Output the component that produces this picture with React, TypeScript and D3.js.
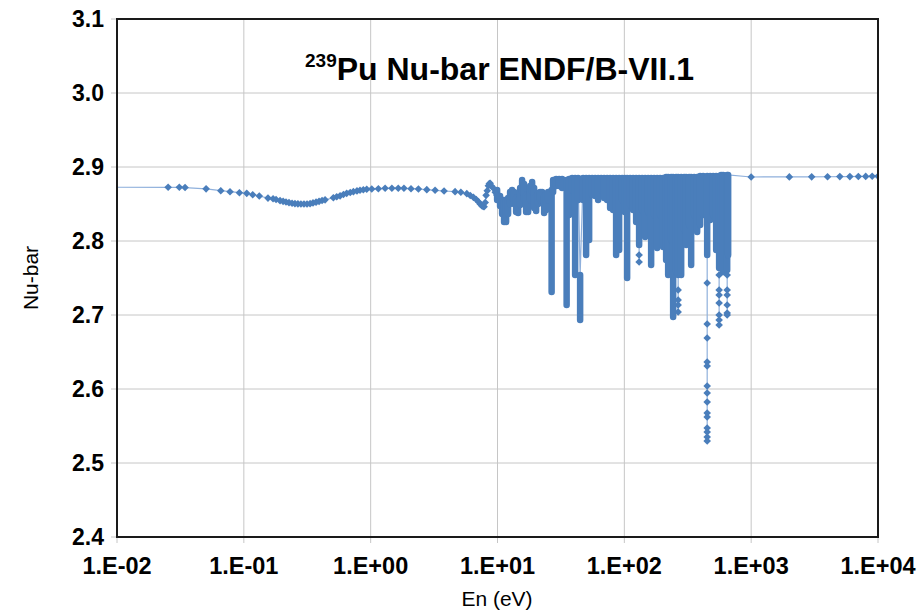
import React from 'react';
import * as d3 from 'd3';

const W = 920;
const H = 610;
const PL = 117, PR = 878, PT = 19, PB = 537;

const xTicks = [1e-2, 1e-1, 1, 10, 100, 1000, 10000];
const xTickLabels = ['1.E-02', '1.E-01', '1.E+00', '1.E+01', '1.E+02', '1.E+03', '1.E+04'];
const yTicks = [2.4, 2.5, 2.6, 2.7, 2.8, 2.9, 3.0, 3.1];
const yTickLabels = ['2.4', '2.5', '2.6', '2.7', '2.8', '2.9', '3.0', '3.1'];

// smooth (thermal / low-energy) region: individual points
const lowE = [0.00001, 0.0253, 0.031, 0.0344, 0.0504, 0.0658, 0.0778, 0.0923, 0.1054, 0.1175, 0.1324, 0.155, 0.170, 0.1795, 0.193, 0.204, 0.215, 0.227, 0.240, 0.253, 0.267, 0.282, 0.298, 0.315, 0.333, 0.351, 0.371, 0.392, 0.414, 0.437, 0.508, 0.54, 0.574, 0.61, 0.647, 0.69, 0.731, 0.78, 0.824, 0.875, 0.931, 1.02, 1.15, 1.30, 1.47, 1.65, 1.83, 2.08, 2.38, 2.77, 3.22, 3.79, 4.63, 5.14, 5.73, 6.1, 6.46, 6.8, 7.07, 7.30, 7.52, 7.70, 7.84, 8.0, 8.13, 8.30, 8.47, 8.62, 8.75, 9.0, 9.29, 9.6, 9.87];
const lowNu = [2.8730, 2.8726, 2.8726, 2.8722, 2.8705, 2.8680, 2.8666, 2.8653, 2.8644, 2.8626, 2.8608, 2.8580, 2.8570, 2.8560, 2.8545, 2.8536, 2.8527, 2.8518, 2.8510, 2.8505, 2.8502, 2.8500, 2.8500, 2.8500, 2.8505, 2.8515, 2.8525, 2.8536, 2.8547, 2.8556, 2.8585, 2.8598, 2.8610, 2.8628, 2.8644, 2.8656, 2.8667, 2.8677, 2.8685, 2.8692, 2.8699, 2.8703, 2.8707, 2.8712, 2.8712, 2.8712, 2.8712, 2.8707, 2.8703, 2.8694, 2.8685, 2.8676, 2.8667, 2.8658, 2.8640, 2.8615, 2.8590, 2.8560, 2.8530, 2.8500, 2.8477, 2.8466, 2.8464, 2.8520, 2.8617, 2.8680, 2.8745, 2.8775, 2.8779, 2.8740, 2.8712, 2.8660, 2.8620];

// resolved-resonance region: densely sampled, shown as value ranges per energy
const colE = [9.93, 10.48, 10.87, 11.27, 11.69, 12.12, 12.57, 13.03, 13.52, 14.02, 14.54, 15.08, 15.63, 16.21, 16.81, 17.43, 18.08, 18.75, 19.44, 20.16, 20.91, 21.68, 22.48, 23.32, 24.18, 25.07, 26.71, 27.45, 28.98, 30.61, 32.32, 35.08, 36.71, 38.76, 40.93, 43.22, 44.82, 47.33, 49.96, 52.78, 55.75, 58.85, 62.15, 65.61, 69.28, 73.16, 77.27, 81.60, 86.15, 90.99, 96.07, 100.6, 105.2, 111.1, 117.3, 123.9, 130.8, 138.2, 145.9, 154.1, 162.7, 171.8, 181.4, 191.6, 202.3, 213.6, 221.6, 234.0, 242.6, 256.2, 265.7, 280.6, 296.2, 307.2, 324.4, 336.4, 355.3, 375.1, 396.1, 418.3, 450.0, 475.1, 501.6, 529.7, 559.0, 579.9, 601.3, 647.0, 658.5];
const colHi = [2.8689, 2.8608, 2.8554, 2.8554, 2.8554, 2.8581, 2.8662, 2.8689, 2.8662, 2.8581, 2.8554, 2.8716, 2.8824, 2.8770, 2.8622, 2.8608, 2.8743, 2.8797, 2.8716, 2.8608, 2.8649, 2.8662, 2.8662, 2.8608, 2.8635, 2.8662, 2.8689, 2.8824, 2.8838, 2.8838, 2.8838, 2.8824, 2.8838, 2.8851, 2.8851, 2.8851, 2.7541, 2.8851, 2.8851, 2.8851, 2.8851, 2.8851, 2.8851, 2.8851, 2.8851, 2.8851, 2.8851, 2.8851, 2.8851, 2.8851, 2.8851, 2.8851, 2.8851, 2.8851, 2.8851, 2.8851, 2.8851, 2.8851, 2.8851, 2.8851, 2.8851, 2.8851, 2.8851, 2.8851, 2.8851, 2.8865, 2.8865, 2.8865, 2.8865, 2.8865, 2.8865, 2.8865, 2.8865, 2.8865, 2.8865, 2.8865, 2.8865, 2.8865, 2.8878, 2.8878, 2.8878, 2.8878, 2.8878, 2.8878, 2.8878, 2.8892, 2.8892, 2.8892, 2.8892];
const colLo = [2.8554, 2.8473, 2.8365, 2.8257, 2.8257, 2.8365, 2.8500, 2.8581, 2.8500, 2.8392, 2.8378, 2.8486, 2.8662, 2.8554, 2.8392, 2.8392, 2.8554, 2.8662, 2.8446, 2.8405, 2.8500, 2.8554, 2.8554, 2.8378, 2.8419, 2.8554, 2.7311, 2.8662, 2.8743, 2.8743, 2.8716, 2.7135, 2.8351, 2.8689, 2.7541, 2.8554, 2.6932, 2.8554, 2.7811, 2.8014, 2.8622, 2.8608, 2.8554, 2.8689, 2.8581, 2.8554, 2.8446, 2.8419, 2.7811, 2.7878, 2.8554, 2.8392, 2.7500, 2.8486, 2.8419, 2.8257, 2.7946, 2.8419, 2.8054, 2.8392, 2.7676, 2.8351, 2.7905, 2.8351, 2.7919, 2.7743, 2.7541, 2.8014, 2.6973, 2.7581, 2.7541, 2.7541, 2.8149, 2.7946, 2.8216, 2.7676, 2.8351, 2.8122, 2.8216, 2.8351, 2.7811, 2.8284, 2.8351, 2.7878, 2.7635, 2.7635, 2.7581, 2.7608, 2.7811];

// isolated points in the deepest resonance dips
const tailE = [130.8, 130.8, 265.7, 265.7, 265.7, 265.7, 450, 450, 450, 450, 450, 450, 450, 450, 450, 450, 450, 450, 450, 450, 559, 559, 559, 559, 559, 559, 559, 647, 647, 647, 647, 647, 647];
const tailNu = [2.7811, 2.7716, 2.7338, 2.7203, 2.7135, 2.7041, 2.7432, 2.6878, 2.6689, 2.6365, 2.6311, 2.6041, 2.5946, 2.5824, 2.5676, 2.5622, 2.5473, 2.5419, 2.5351, 2.5297, 2.7541, 2.7338, 2.7270, 2.7162, 2.7000, 2.6932, 2.6865, 2.7541, 2.7338, 2.7270, 2.7135, 2.7027, 2.7000];

// unresolved / fast region
const highE = [1000, 2000, 3000, 4000, 5000, 6000, 7000, 8000, 9000, 10000];
const highNu = [2.8865, 2.8866, 2.8867, 2.8868, 2.8870, 2.8870, 2.8872, 2.8873, 2.8874, 2.8875];

const MARK = '#4a7ebb';
const LINE = '#8fb0dc';

export default function App() {
  const x = d3.scaleLog().domain([1e-2, 1e4]).range([PL, PR]);
  const y = d3.scaleLinear().domain([2.4, 3.1]).range([PB, PT]);

  const trace: [number, number][] = [];
  lowE.forEach((e, i) => trace.push([e, lowNu[i]]));
  colE.forEach((e, i) => {
    trace.push([e, colHi[i]]);
    trace.push([e, colLo[i]]);
    tailNu.filter((_, j) => tailE[j] === e).forEach((v) => trace.push([e, v]));
    trace.push([e, colHi[i]]);
  });
  highE.forEach((e, i) => trace.push([e, highNu[i]]));
  const linePath = d3.line<[number, number]>().x((d) => x(d[0])).y((d) => y(d[1]))(trace) || '';

  const diamond = 'M0,-3.8L3.8,0L0,3.8L-3.8,0Z';
  const pts: [number, number][] = [];
  lowE.forEach((e, i) => pts.push([e, lowNu[i]]));
  tailE.forEach((e, i) => pts.push([e, tailNu[i]]));
  highE.forEach((e, i) => pts.push([e, highNu[i]]));

  const font = 'Arial, "Liberation Sans", Helvetica, sans-serif';

  return (
    <svg width={W} height={H} style={{ position: 'absolute', left: 0, top: 0, background: '#fff' }} fontFamily={font}>
      <defs>
        <clipPath id="plotclip">
          <rect x={PL} y={PT} width={PR - PL} height={PB - PT} />
        </clipPath>
      </defs>
      <rect x={0} y={0} width={W} height={H} fill="#fff" />
      {xTicks.map((t, i) => (
        <line key={'gx' + i} x1={x(t)} x2={x(t)} y1={PT} y2={PB + 6} stroke="#c6c6c6" strokeWidth={1} />
      ))}
      {yTicks.map((t, i) => (
        <line key={'gy' + i} x1={PL - 6} x2={PR} y1={y(t)} y2={y(t)} stroke="#c6c6c6" strokeWidth={1} />
      ))}
      <g clipPath="url(#plotclip)">
        <path d={linePath} fill="none" stroke={LINE} strokeWidth={1.2} />
        {colE.map((e, i) => (
          <line key={'c' + i} x1={x(e)} x2={x(e)} y1={y(colHi[i])} y2={y(colLo[i])} stroke={MARK} strokeWidth={6.5} strokeLinecap="round" />
        ))}
        {pts.map((p, i) => (
          <path key={'p' + i} d={diamond} transform={`translate(${x(p[0])},${y(p[1])})`} fill={MARK} />
        ))}
      </g>
      <rect x={PL} y={PT} width={PR - PL} height={PB - PT} fill="none" stroke="#1a1a1a" strokeWidth={2} />
      {yTicks.map((t, i) => (
        <text key={'ly' + i} x={104} y={y(t) + 8} textAnchor="end" fontSize={23} fontWeight="bold" fill="#000">
          {yTickLabels[i]}
        </text>
      ))}
      {xTicks.map((t, i) => (
        <text key={'lx' + i} x={x(t)} y={574} textAnchor="middle" fontSize={23.5} fontWeight="bold" fill="#000">
          {xTickLabels[i]}
        </text>
      ))}
      <text x={497} y={606} textAnchor="middle" fontSize={21} fill="#000">En (eV)</text>
      <text transform="translate(38,278) rotate(-90)" textAnchor="middle" fontSize={21} fill="#000">Nu-bar</text>
      <text x={305} y={80} fontWeight="bold" fill="#000">
        <tspan fontSize={19} dy={-13}>239</tspan>
        <tspan fontSize={32} dy={13}>Pu Nu-bar ENDF/B-VII.1</tspan>
      </text>
    </svg>
  );
}
